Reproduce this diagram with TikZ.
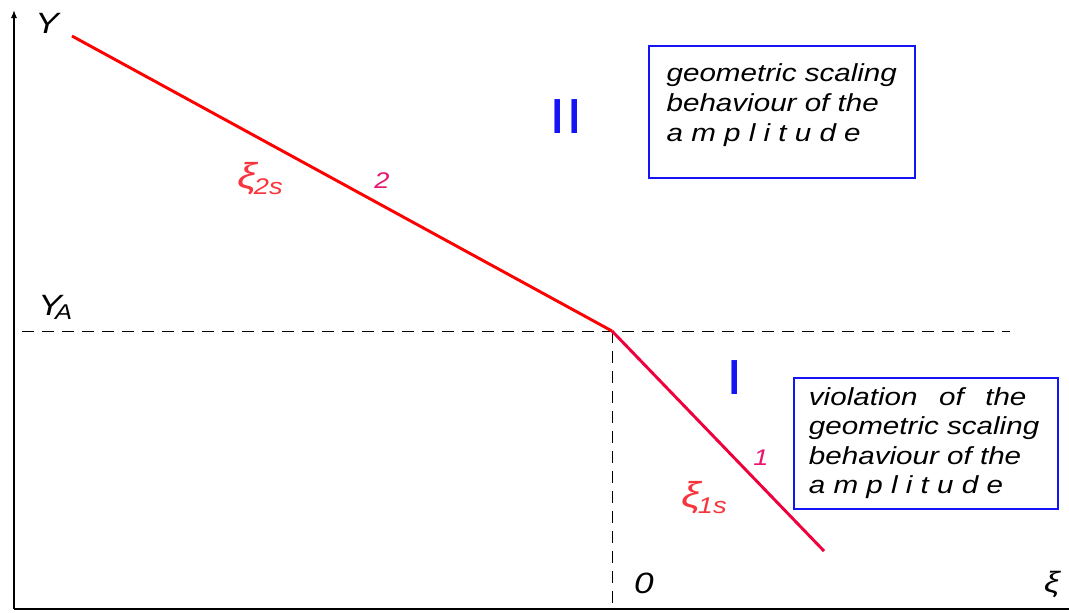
\documentclass[tikz,border=0pt]{standalone}
\usepackage{fontspec}
\setmainfont{Liberation Sans}[FakeStretch=1.2]
\usetikzlibrary{arrows.meta}
\definecolor{segred}{RGB}{255,0,0}
\definecolor{segcrim}{RGB}{238,0,60}
\definecolor{xired}{RGB}{248,52,60}
\definecolor{numpink}{RGB}{232,20,110}
\definecolor{boxblue}{RGB}{20,20,245}

\begin{document}
\begin{tikzpicture}[x=0.75pt, y=-0.75pt, >=Latex,
  axis/.style={line width=0.9pt},
  guide/.style={dash pattern=on 9pt off 6pt, line width=0.75pt},
  branch/.style={line width=2.2pt},
  lbl/.style={font=\fontsize{22}{24}\selectfont\itshape, inner sep=0pt},
  infobox/.style={draw=boxblue, line width=1.4pt, anchor=north west, align=left,
                  font=\fontsize{18.5}{22.5}\selectfont\itshape},
  region/.style={text=boxblue, font=\fontsize{37}{40}\selectfont, inner sep=0pt},
  slope/.style={text=numpink, font=\fontsize{17}{20}\selectfont\itshape, inner sep=0pt},
  xilbl/.style={text=xired, font=\fontsize{27}{29}\selectfont\itshape, inner sep=0pt, anchor=base west}]
\useasboundingbox (0,0) rectangle (1069,612);
\coordinate (O) at (14,609);
\coordinate (ytop) at (14,10);
\coordinate (xend) at (1069,609);
\coordinate (p2) at (72,36);
\coordinate (A) at (612,331);
\coordinate (p1) at (824,551);
\coordinate (dashL) at (22,331);
\coordinate (dashR) at (1010,331);
\coordinate (A0) at (612,609);

\draw[axis,-{Latex[length=6pt,width=4.5pt]}] (O) -- (ytop);
\draw[axis] (O) -- (xend);
\draw[guide] (dashL) -- (dashR);
\draw[guide] (A) -- (A0);
\draw[branch, segred] (p2) -- (A);
\draw[branch, segcrim] (A) -- (p1);

\node[lbl] (ylab) at (47,23) {Y};
\node[lbl, anchor=base west] (yalab) at (38,315) {Y\kern-5pt\raisebox{-3pt}{\fontsize{16}{18}\selectfont A}};
\node[lbl] (zero) at (644,583) {0};
\node[lbl] (xilab) at (1052,584) {ξ};

\node[region] (II) at (566,117) {II};
\node[region] (I) at (735,378) {I};

\node[xilbl] (xi2) at (237,188) {ξ\kern-2pt\raisebox{-4.5pt}{\fontsize{17}{19}\selectfont 2s}};
\node[xilbl] (xi1) at (681,507) {ξ\kern-2pt\raisebox{-4.5pt}{\fontsize{17}{19}\selectfont 1s}};
\node[slope] (n2) at (382,181) {2};
\node[slope] (n1) at (761,458) {1};

\node[infobox, text width=173pt, inner xsep=13.25pt, minimum height=99pt] (geo) at (648,45)
  {geometric scaling\\ behaviour of the\\ a m p l i t u d e\rule[-13.5pt]{0pt}{0pt}};
\node[infobox, text width=175.5pt, inner xsep=11.25pt, minimum height=98pt,
      font=\fontsize{18.5}{22}\selectfont\itshape] (viol) at (793,377)
  {violation\hspace{10pt} of\hspace{10pt} the\\ geometric scaling\\ behaviour of the\\ a m p l i t u d e};
\end{tikzpicture}
\end{document}
